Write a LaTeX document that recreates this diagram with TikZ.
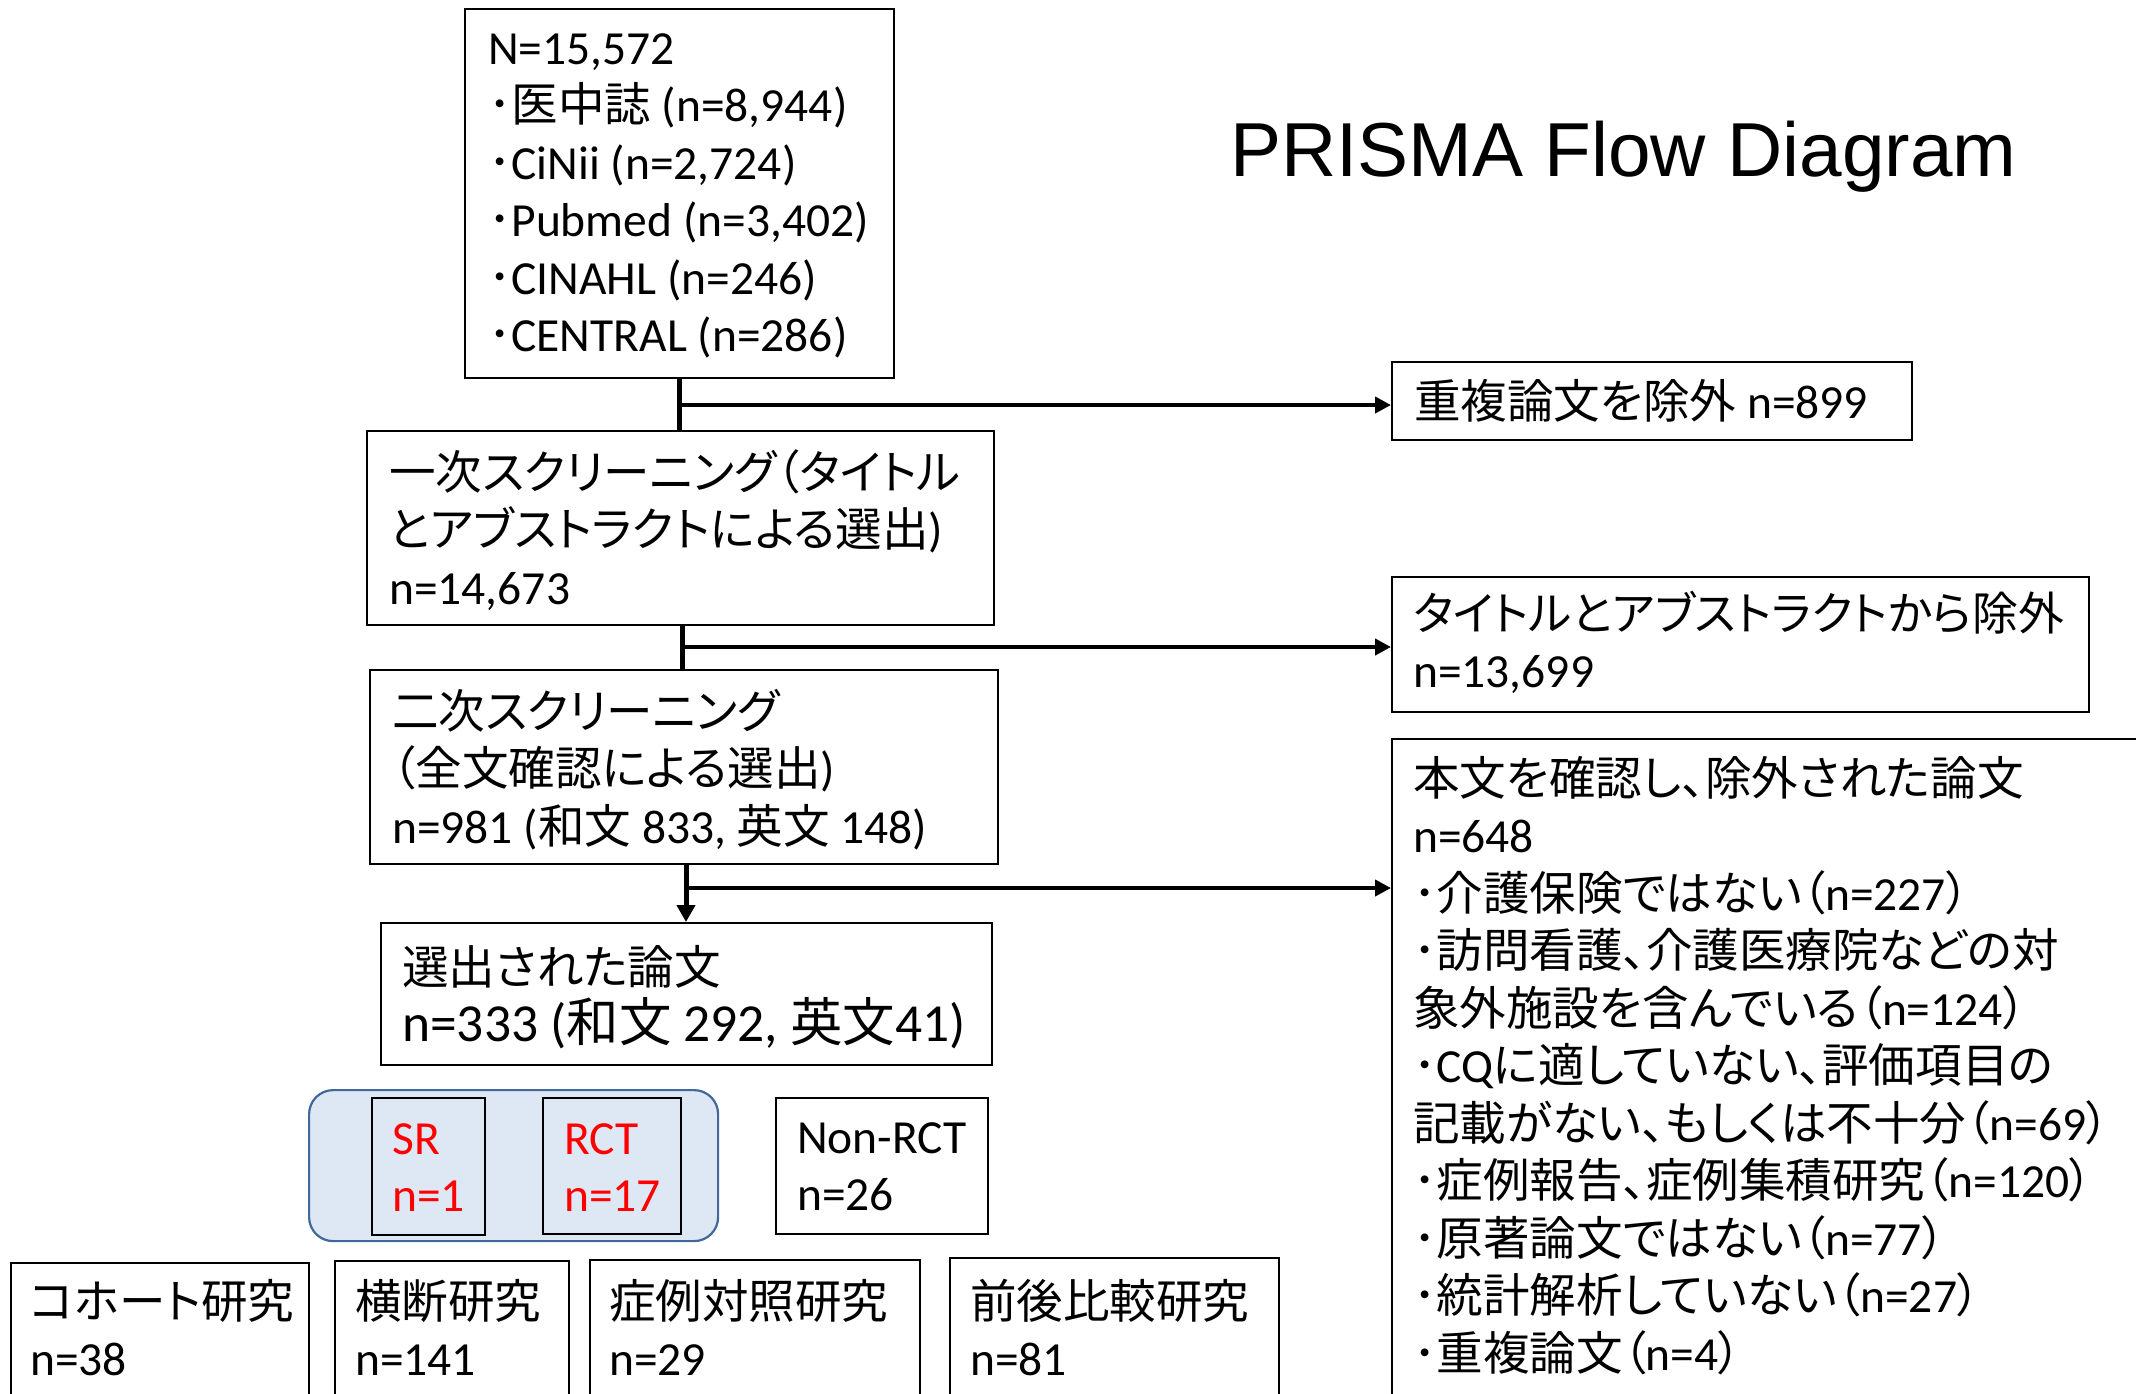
\documentclass[tikz,border=0pt]{standalone}
\usepackage{fontspec}
\setmainfont{Carlito}
\newfontfamily\latinfont{Carlito}
\newfontfamily\jpfont[Scale=0.98,RawFeature=+palt]{Noto Sans CJK JP}
\newfontfamily\titlefont{Liberation Sans}
\usetikzlibrary{arrows.meta}
% automatic switch to the Japanese font
\XeTeXinterchartokenstate=1
\newXeTeXintercharclass\jpclass
\newcount\jpc
\jpc="3000 \loop\ifnum\jpc<"3100 \XeTeXcharclass\jpc=\jpclass \advance\jpc by 1 \repeat
\jpc="4E00 \loop\ifnum\jpc<"A000 \XeTeXcharclass\jpc=\jpclass \advance\jpc by 1 \repeat
\jpc="FF00 \loop\ifnum\jpc<"FFF0 \XeTeXcharclass\jpc=\jpclass \advance\jpc by 1 \repeat
\XeTeXinterchartoks 0 \jpclass = {\jpfont}
\XeTeXinterchartoks 4095 \jpclass = {\jpfont}
\XeTeXinterchartoks \jpclass 0 = {\latinfont}
\XeTeXinterchartoks \jpclass 4095 = {\latinfont}
\definecolor{grpfill}{HTML}{DEE8F4}
\definecolor{grpline}{HTML}{41689B}
\definecolor{redtxt}{HTML}{FF0000}
\newcommand\bodyfont{\fontsize{47.5pt}{57.5pt}\selectfont}
\newcommand\mlines[1]{\vtop{\baselineskip=57.5pt\lineskiplimit=-1000pt\lineskip=0pt\relax#1}}
\newcommand\lineof[1]{\hbox{#1}}
\tikzset{
  box/.style={draw=black, line width=1.6pt, inner sep=0pt, anchor=north west},
  txt/.style={anchor=base west, inner sep=0pt, font=\bodyfont},
  vconn/.style={line width=5pt, draw=black},
  hconn/.style={line width=4pt, draw=black, -{Triangle[length=16pt,width=16pt]}},
  vconnarr/.style={line width=5pt, draw=black, -{Triangle[length=17pt,width=18pt]}},
}
\begin{document}
\begin{tikzpicture}[x=1pt,y=-1pt]
\useasboundingbox (0,0) rectangle (2136,1393);
\fill[white] (0,0) rectangle (2136,1393);

% title
\node[anchor=base west, inner sep=0pt, font=\titlefont\fontsize{76.5pt}{90pt}\selectfont] (title) at (1230,176) {PRISMA Flow Diagram};

% boxes
\node[box, minimum width=429pt, minimum height=369pt] (top) at (464,8) {};
\node[box, minimum width=520pt, minimum height=78pt] (dup) at (1391,361) {};
\node[box, minimum width=627pt, minimum height=194pt] (scr1) at (366,430) {};
\node[box, minimum width=697pt, minimum height=135pt] (abs) at (1391,576) {};
\node[box, minimum width=628pt, minimum height=194pt] (scr2) at (369,669) {};
\node[box, minimum width=780pt, minimum height=690pt] (full) at (1391,738) {};
\node[box, minimum width=611pt, minimum height=142pt] (sel) at (380,922) {};
\node[draw=grpline, fill=grpfill, line width=2.2pt, rounded corners=24pt, inner sep=0pt, anchor=north west, minimum width=409pt, minimum height=151pt] (grp) at (308,1089) {};
\node[box, minimum width=113pt, minimum height=137pt] (sr) at (371,1097) {};
\node[box, minimum width=138pt, minimum height=136pt] (rct) at (542,1097) {};
\node[box, minimum width=212pt, minimum height=136pt] (nrct) at (775,1097) {};
\node[box, minimum width=298pt, minimum height=200pt] (coh) at (10,1262) {};
\node[box, minimum width=234pt, minimum height=200pt] (cross) at (334,1260) {};
\node[box, minimum width=330pt, minimum height=200pt] (cc) at (589,1259) {};
\node[box, minimum width=329pt, minimum height=200pt] (pp) at (949,1257) {};

% texts
\node[txt] (ttop) at (488,64) {\mlines{%
  \lineof{N=15,572}
  \lineof{･医中誌 (n=8,944)}
  \lineof{･CiNii (n=2,724)}
  \lineof{･Pubmed (n=3,402)}
  \lineof{･CINAHL (n=246)}
  \lineof{･CENTRAL (n=286)}}};
\node[txt] (tdup) at (1414,418) {重複論文を除外 n=899};
\node[txt] (tscr1) at (389,489) {\mlines{%
  \lineof{一次スクリーニング（タイトル}
  \lineof{とアブストラクトによる選出)}
  \lineof{n=14,673}}};
\node[txt] (tabs) at (1413,630) {\mlines{%
  \lineof{\fontsize{46.8pt}{57.5pt}\selectfont タイトルとアブストラクトから除外}
  \lineof{n=13,699}}};
\node[txt] (tscr2) at (392,728) {\mlines{%
  \lineof{二次スクリーニング}
  \lineof{（全文確認による選出)}
  \lineof{n=981 (和文 833, 英文 148)}}};
\node[txt] (tsel) at (402,984) {\mlines{%
  \lineof{\fontsize{47.5pt}{57.5pt}\selectfont 選出された論文}
  \lineof{\fontsize{53.5pt}{57.5pt}\selectfont n=333 (和文 292, 英文41)}}};
\node[txt] (tfull) at (1413,795) {\mlines{%
  \lineof{本文を確認し、除外された論文}
  \lineof{n=648}
  \lineof{･介護保険ではない（n=227）}
  \lineof{･訪問看護、介護医療院などの対}
  \lineof{象外施設を含んでいる（n=124）}
  \lineof{･CQに適していない、評価項目の}
  \lineof{記載がない、もしくは不十分（n=69）}
  \lineof{･症例報告、症例集積研究（n=120）}
  \lineof{･原著論文ではない（n=77）}
  \lineof{･統計解析していない（n=27）}
  \lineof{･重複論文（n=4）}}};
\node[txt, text=redtxt] (tsr) at (392,1154) {\mlines{\lineof{SR}\lineof{n=1}}};
\node[txt, text=redtxt] (trct) at (564,1154) {\mlines{\lineof{RCT}\lineof{n=17}}};
\node[txt] (tnrct) at (797,1153) {\mlines{\lineof{Non-RCT}\lineof{n=26}}};
\node[txt] (tcoh) at (30,1318) {\mlines{\lineof{コホート研究}\lineof{n=38}}};
\node[txt] (tcross) at (355,1318) {\mlines{\lineof{横断研究}\lineof{n=141}}};
\node[txt] (tcc) at (609,1318) {\mlines{\lineof{症例対照研究}\lineof{n=29}}};
\node[txt] (tpp) at (970,1318) {\mlines{\lineof{前後比較研究}\lineof{n=81}}};

% connectors
\coordinate (c1) at (679,405);
\coordinate (c2) at (682,647);
\coordinate (c3) at (686,888);
\draw[vconn] (top.south -| c1) -- (scr1.north -| c1);
\draw[hconn] (c1) -- (c1 -| dup.west);
\draw[vconn] (scr1.south -| c2) -- (scr2.north -| c2);
\draw[hconn] (c2) -- (c2 -| abs.west);
\draw[vconnarr] (scr2.south -| c3) -- (sel.north -| c3);
\draw[hconn] (c3) -- (c3 -| full.west);
\end{tikzpicture}
\end{document}
